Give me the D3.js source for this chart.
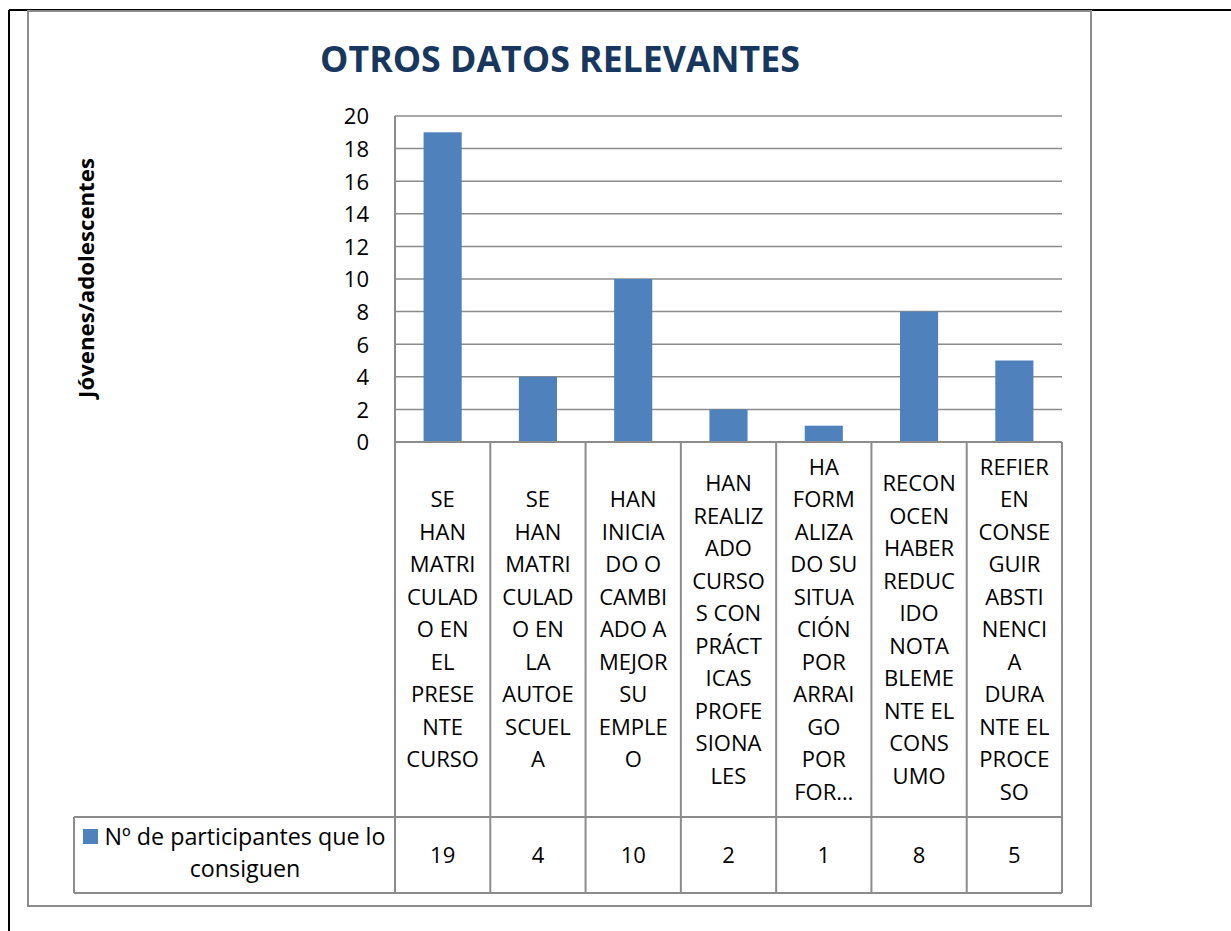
<!DOCTYPE html>
<html>
<head>
<meta charset="utf-8">
<script src="https://cdn.jsdelivr.net/npm/d3@7"></script>
<style>
  html, body { margin: 0; padding: 0; background: #fff; }
  svg { display: block; }
  text { font-family: "Open Sans", Lato, sans-serif; fill: #000; }
</style>
</head>
<body>
<svg id="chart" width="1231" height="931"></svg>
<script>
// ---- data ----
const title = "OTROS DATOS RELEVANTES";
const yAxisTitle = "Jóvenes/adolescentes";
const seriesName = "Nº de participantes que lo consiguen";
const seriesNameLines = ["Nº de participantes que lo", "consiguen"];
const categories = [
  "SE HAN MATRICULADO EN EL PRESENTE CURSO",
  "SE HAN MATRICULADO EN LA AUTOESCUELA",
  "HAN INICIADO O CAMBIADO A MEJOR SU EMPLEO",
  "HAN REALIZADO CURSOS CON PRÁCTICAS PROFESIONALES",
  "HA FORMALIZADO SU SITUACIÓN POR ARRAIGO POR FORMACIÓN",
  "RECONOCEN HABER REDUCIDO NOTABLEMENTE EL CONSUMO",
  "REFIEREN CONSEGUIR ABSTINENCIA DURANTE EL PROCESO"
];
// category labels as wrapped in the original table
const categoryLines = [
  ["SE","HAN","MATRI","CULAD","O EN","EL","PRESE","NTE","CURSO"],
  ["SE","HAN","MATRI","CULAD","O EN","LA","AUTOE","SCUEL","A"],
  ["HAN","INICIA","DO O","CAMBI","ADO A","MEJOR","SU","EMPLE","O"],
  ["HAN","REALIZ","ADO","CURSO","S CON","PRÁCT","ICAS","PROFE","SIONA","LES"],
  ["HA","FORM","ALIZA","DO SU","SITUA","CIÓN","POR","ARRAI","GO","POR","FOR…"],
  ["RECON","OCEN","HABER","REDUC","IDO","NOTA","BLEME","NTE EL","CONS","UMO"],
  ["REFIER","EN","CONSE","GUIR","ABSTI","NENCI","A","DURA","NTE EL","PROCE","SO"]
];
const values = [19, 4, 10, 2, 1, 8, 5];
const yTicks = [0, 2, 4, 6, 8, 10, 12, 14, 16, 18, 20];

// ---- layout ----
const barColor = "#4F81BD";
const lineColor = "#8C8C8C";
const plotL = 395, plotR = 1062, plotT = 116, plotB = 442;
const labelB = 817, tableB = 893, legendL = 74;
const lineH = 32.5;
const fs = 22;

const svg = d3.select("#chart");

function fitWidth(sel, target) {
  const fs0 = parseFloat(sel.attr("font-size"));
  const w = sel.node().getComputedTextLength();
  if (w > 0) sel.attr("font-size", fs0 * target / w);
}

// outer page border (black, top and left)
svg.append("line").attr("x1", 9).attr("x2", 1231).attr("y1", 10).attr("y2", 10)
  .attr("stroke", "#000").attr("stroke-width", 2);
svg.append("line").attr("x1", 9).attr("x2", 9).attr("y1", 10).attr("y2", 931)
  .attr("stroke", "#000").attr("stroke-width", 2);

// chart frame
svg.append("rect").attr("x", 28).attr("y", 11).attr("width", 1063).attr("height", 895)
  .attr("fill", "#fff").attr("stroke", lineColor).attr("stroke-width", 2);

const x = d3.scaleBand().domain(categories).range([plotL, plotR]).paddingInner(0).paddingOuter(0);
const y = d3.scaleLinear().domain([0, 20]).range([plotB, plotT]);

// gridlines
svg.append("g").selectAll("line").data(yTicks.filter(d => d > 0)).join("line")
  .attr("x1", plotL).attr("x2", plotR)
  .attr("y1", d => y(d)).attr("y2", d => y(d))
  .attr("stroke", lineColor).attr("stroke-width", 1.5);

// y axis via d3 axis (labels only)
const yAxis = d3.axisLeft(y).tickValues(yTicks).tickSize(0).tickPadding(26).tickFormat(d3.format("d"));
const gy = svg.append("g").attr("transform", `translate(${plotL},0)`).call(yAxis);
gy.select(".domain").remove();
gy.selectAll("text").attr("font-size", fs).attr("font-family", "'Open Sans', Lato, sans-serif")
  .attr("fill", "#000").attr("dy", "0.36em");

// bars
const bw = x.bandwidth() / 2.5;
svg.append("g").selectAll("rect").data(values).join("rect")
  .attr("x", (d, i) => x(categories[i]) + (x.bandwidth() - bw) / 2)
  .attr("width", bw)
  .attr("y", d => y(d))
  .attr("height", d => y(0) - y(d))
  .attr("fill", barColor);

// table lines
const tbl = svg.append("g").attr("stroke", lineColor).attr("stroke-width", 2);
tbl.append("line").attr("x1", plotL).attr("x2", plotR).attr("y1", plotB).attr("y2", plotB);
tbl.append("line").attr("x1", plotL).attr("x2", plotL).attr("y1", plotT).attr("y2", tableB);
const bounds = categories.map(c => x(c) + x.bandwidth());
tbl.selectAll("line.sep").data(bounds).join("line").attr("class", "sep")
  .attr("x1", d => d).attr("x2", d => d).attr("y1", plotB).attr("y2", tableB);
tbl.append("line").attr("x1", legendL).attr("x2", plotR).attr("y1", labelB).attr("y2", labelB);
tbl.append("line").attr("x1", legendL).attr("x2", plotR).attr("y1", tableB).attr("y2", tableB);
tbl.append("line").attr("x1", legendL).attr("x2", legendL).attr("y1", labelB).attr("y2", tableB);

// category labels
const labelMid = (plotB + labelB) / 2;
categoryLines.forEach((lines, i) => {
  const cx = x(categories[i]) + x.bandwidth() / 2;
  const t = svg.append("text").attr("text-anchor", "middle").attr("font-size", fs);
  lines.forEach((ln, j) => {
    t.append("tspan").attr("x", cx)
      .attr("y", labelMid + (j - (lines.length - 1) / 2) * lineH + 0.36 * fs)
      .text(ln);
  });
});

// data values
const rowMid = (labelB + tableB) / 2;
svg.append("g").selectAll("text").data(values).join("text")
  .attr("x", (d, i) => x(categories[i]) + x.bandwidth() / 2)
  .attr("y", rowMid + 0.36 * fs)
  .attr("text-anchor", "middle").attr("font-size", fs)
  .text(d => d);

// legend cell
const legCx = 245;
svg.append("rect").attr("x", 83).attr("y", 829).attr("width", 15).attr("height", 15).attr("fill", barColor);
const l1 = svg.append("text").attr("text-anchor", "middle").attr("font-size", fs)
  .attr("x", legCx).attr("y", 845).text(seriesNameLines[0]);
fitWidth(l1, 281);
svg.append("text").attr("text-anchor", "middle").attr("font-size", l1.attr("font-size"))
  .attr("x", legCx).attr("y", 877).text(seriesNameLines[1]);

// title
const tt = svg.append("text").attr("x", 560).attr("y", 72).attr("text-anchor", "middle")
  .attr("font-size", 36).attr("font-weight", "bold")
  .style("fill", "#17375E").text(title);
fitWidth(tt, 480);

// y axis title
const yt = svg.append("text").attr("transform", "translate(94,278) rotate(-90)")
  .attr("text-anchor", "middle").attr("font-size", 21).attr("font-weight", "bold")
  .text(yAxisTitle);
fitWidth(yt, 240);
</script>
</body>
</html>
